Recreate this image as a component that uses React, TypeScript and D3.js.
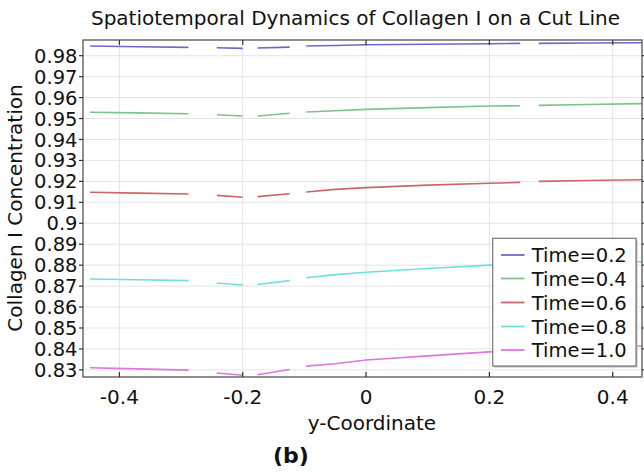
import React from "react";
import * as d3 from "d3";

const W = 644;
const H = 472;

// y-coordinate sample positions (null entries in series = gaps in the drawn line)
const xs = [-0.4475, -0.37, -0.288, -0.265, -0.242, -0.2, -0.188, -0.176, -0.124, -0.11, -0.097, -0.05, 0, 0.1, 0.2, 0.25, 0.265, 0.28, 0.36, 0.4475];

const time02 = [0.9846, 0.9843, 0.984, null, 0.9838, 0.9835, null, 0.9837, 0.9841, null, 0.9846, 0.9849, 0.9852, 0.9855, 0.9857, 0.9859, null, 0.9859, 0.9861, 0.9862];
const time04 = [0.953, 0.9527, 0.9523, null, 0.9518, 0.9512, null, 0.9512, 0.9525, null, 0.9531, 0.9537, 0.9544, 0.9552, 0.956, 0.9561, null, 0.9563, 0.9567, 0.9571];
const time06 = [0.9148, 0.9144, 0.914, null, 0.9133, 0.9124, null, 0.9127, 0.9141, null, 0.9149, 0.9162, 0.917, 0.9182, 0.9191, 0.9195, null, 0.92, 0.9204, 0.9208];
const time08 = [0.8734, 0.873, 0.8726, null, 0.8715, 0.8705, null, 0.8708, 0.8726, null, 0.874, 0.8755, 0.8766, 0.8784, 0.88, 0.8806, null, 0.8809, 0.8813, 0.8816];
const time10 = [0.831, 0.8305, 0.8299, null, 0.8285, 0.8274, null, 0.8277, 0.8302, null, 0.8318, 0.8329, 0.8347, 0.8367, 0.8386, 0.8394, null, 0.8398, 0.8406, 0.8414];

const seriesNames = ["Time=0.2", "Time=0.4", "Time=0.6", "Time=0.8", "Time=1.0"];
const seriesValues = [time02, time04, time06, time08, time10];
const seriesColors = ["#6a6acc", "#7cc48c", "#cc6666", "#6de0e0", "#dd77dd"];

const xTicks = [-0.4, -0.2, 0, 0.2, 0.4];
const yTicks = [0.83, 0.84, 0.85, 0.86, 0.87, 0.88, 0.89, 0.9, 0.91, 0.92, 0.93, 0.94, 0.95, 0.96, 0.97, 0.98];

const title = "Spatiotemporal Dynamics of Collagen I on a Cut Line";
const xLabel = "y-Coordinate";
const yLabel = "Collagen I Concentration";
const panelLabel = "(b)";

export default function App() {
  const left = 83, right = 642, top = 40, bottom = 377;
  const x = d3.scaleLinear().domain([-0.459, 0.4475]).range([left, right]);
  const y = d3.scaleLinear().domain([0.8266, 0.9875]).range([bottom, top]);
  const font = "'DejaVu Sans', sans-serif";

  const line = d3
    .line<[number, number | null]>()
    .defined((d) => d[1] !== null)
    .x((d) => x(d[0]))
    .y((d) => y(d[1] as number));

  const fmtY = (v: number) => (Math.abs(v - 0.9) < 1e-9 ? "0.9" : v.toFixed(2));
  const fmtX = (v: number) => (v === 0 ? "0" : v.toFixed(1));

  const legX = 492.7, legY = 238.3, legW = 143.3, legH = 127.7;
  const rowY = [255, 278.5, 302.5, 326.5, 350];

  return (
    <svg width={W} height={H} style={{ position: "absolute", left: 0, top: 0, display: "block", background: "#fff" }} fontFamily={font}>
      <rect x={0} y={0} width={W} height={H} fill="#fff" />
      <defs>
        <clipPath id="plotclip">
          <rect x={left} y={top} width={right - left} height={bottom - top} />
        </clipPath>
      </defs>
      {/* grid */}
      {xTicks.map((t) => (
        <line key={"gx" + t} x1={x(t)} x2={x(t)} y1={top} y2={bottom} stroke="#e4e4e4" strokeWidth={1} />
      ))}
      {yTicks.map((t) => (
        <line key={"gy" + t} x1={left} x2={right} y1={y(t)} y2={y(t)} stroke="#e4e4e4" strokeWidth={1} />
      ))}
      {/* lines */}
      <g clipPath="url(#plotclip)">
        {seriesValues.map((vals, i) => (
          <path
            key={seriesNames[i]}
            d={line(xs.map((xv, j) => [xv, vals[j]] as [number, number | null])) || ""}
            fill="none"
            stroke={seriesColors[i]}
            strokeWidth={1.6}
          />
        ))}
      </g>
      {/* frame */}
      <rect x={left} y={top} width={right - left} height={bottom - top} fill="none" stroke="#555" strokeWidth={1.3} />
      {/* x ticks */}
      {xTicks.map((t) => (
        <g key={"xt" + t}>
          <line x1={x(t)} x2={x(t)} y1={bottom} y2={bottom - 5} stroke="#333" strokeWidth={1.2} />
          <line x1={x(t)} x2={x(t)} y1={top} y2={top + 5} stroke="#333" strokeWidth={1.2} />
          <text x={x(t)} y={404} textAnchor="middle" fontSize={20} fill="#111">
            {fmtX(t)}
          </text>
        </g>
      ))}
      {/* y ticks */}
      {yTicks.map((t) => (
        <g key={"yt" + t}>
          <line x1={left - 4} x2={left} y1={y(t)} y2={y(t)} stroke="#333" strokeWidth={1.2} />
          <line x1={right} x2={right + 4} y1={y(t)} y2={y(t)} stroke="#333" strokeWidth={1.2} />
          <text x={77.5} y={y(t)} dy="0.36em" textAnchor="end" fontSize={19.5} fill="#111">
            {fmtY(t)}
          </text>
        </g>
      ))}
      {/* title and labels */}
      <text x={355.5} y={25} textAnchor="middle" fontSize={20} fill="#111">
        {title}
      </text>
      <text x={372} y={430} textAnchor="middle" fontSize={20} fill="#111">
        {xLabel}
      </text>
      <text transform={`translate(22,208) rotate(-90)`} textAnchor="middle" fontSize={20} fill="#111">
        {yLabel}
      </text>
      <text x={291} y={463} textAnchor="middle" fontSize={22} fontWeight="bold" fill="#111">
        {panelLabel}
      </text>
      {/* legend */}
      <rect x={legX + 1.5} y={legY + 1.5} width={legW} height={legH} fill="#bbb" />
      <rect x={legX} y={legY} width={legW} height={legH} fill="#fff" stroke="#777" strokeWidth={1.2} />
      {seriesNames.map((n, i) => (
        <g key={"lg" + n}>
          <line x1={501} x2={524.5} y1={rowY[i]} y2={rowY[i]} stroke={seriesColors[i]} strokeWidth={1.8} />
          <text x={531.7} y={rowY[i]} dy="0.36em" fontSize={19.5} fill="#111">
            {n}
          </text>
        </g>
      ))}
    </svg>
  );
}
